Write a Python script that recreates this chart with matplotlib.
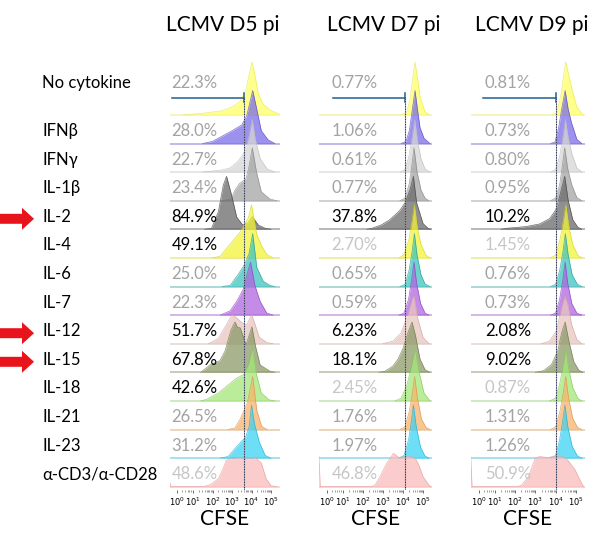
import numpy as np
import matplotlib
matplotlib.use('Agg')
import matplotlib.pyplot as plt
from matplotlib import transforms
from matplotlib.patches import FancyArrow

plt.rcParams['font.family'] = ['Lato', 'DejaVu Sans']

# ---- data ----
rows = ['No cytokine', 'IFNβ', 'IFNγ', 'IL-1β', 'IL-2', 'IL-4', 'IL-6', 'IL-7',
        'IL-12', 'IL-15', 'IL-18', 'IL-21', 'IL-23', 'α-CD3/α-CD28']
row_colors = ['#ffff66', '#7b6ce6', '#d6d6d6', '#a4a4a4', '#6a6a6a', '#f4f43a',
              '#3ec4c0', '#b064e0', '#e9c6c0', '#8c9a68', '#a4e678', '#f7b46c',
              '#3ed2f4', '#f9bcbc']
edge_colors = ['#e6e65a', '#5a4cc8', '#bdbdbd', '#888888', '#444444', '#d4d420',
               '#289c98', '#8c44bc', '#c9a6a0', '#6c7a4c', '#84c658', '#d7944c',
               '#20b0d0', '#e89c9c']
titles = ['LCMV D5 pi', 'LCMV D7 pi', 'LCMV D9 pi']
arrow_rows = ['IL-2', 'IL-12', 'IL-15']

pct_d5 = ['22.3%', '28.0%', '22.7%', '23.4%', '84.9%', '49.1%', '25.0%', '22.3%',
          '51.7%', '67.8%', '42.6%', '26.5%', '31.2%', '48.6%']
pct_d7 = ['0.77%', '1.06%', '0.61%', '0.77%', '37.8%', '2.70%', '0.65%', '0.59%',
          '6.23%', '18.1%', '2.45%', '1.76%', '1.97%', '46.8%']
pct_d9 = ['0.81%', '0.73%', '0.80%', '0.95%', '10.2%', '1.45%', '0.76%', '0.73%',
          '2.08%', '9.02%', '0.87%', '1.31%', '1.26%', '50.9%']
# k = black, g = gray, l = light gray
ink_d5 = 'ggggkkggkkkggl'
ink_d7 = 'ggggklggkklggl'
ink_d9 = 'ggggklggkklggl'

# gate position (decades) per panel
gates = [3.62, 4.1, 4.02]

# histogram outlines: (CFSE position in decades, height relative to mode)
d5_curves = [
    [(0.5, 0), (1.5, 0.03), (2.5, 0.08), (3.0, 0.15), (3.4, 0.25), (3.7, 0.45), (3.9, 0.8),
     (4.02, 1.0), (4.15, 0.8), (4.35, 0.4), (4.6, 0.2), (5.0, 0.08), (5.4, 0.02)],
    [(1.5, 0), (2.0, 0.04), (2.3, 0.1), (3.0, 0.24), (3.5, 0.35), (3.75, 0.52), (3.92, 0.78),
     (4.06, 1.0), (4.25, 0.68), (4.5, 0.24), (4.85, 0.07), (5.2, 0)],
    [(1.5, 0), (2.5, 0.04), (2.9, 0.08), (3.3, 0.2), (3.6, 0.35), (3.85, 0.65), (4.03, 1.0),
     (4.2, 0.6), (4.45, 0.25), (4.8, 0.06), (5.2, 0)],
    [(2.5, 0), (2.95, 0.03), (3.15, 0.2), (3.4, 0.33), (3.7, 0.4), (3.85, 0.6), (4.04, 1.0),
     (4.25, 0.55), (4.5, 0.17), (4.95, 0.03), (5.3, 0)],
    [(1.6, 0), (1.95, 0.02), (2.3, 0.33), (2.55, 0.83), (2.72, 1.0), (2.98, 0.64), (3.24, 0.23),
     (3.55, 0.08), (3.8, 0.12), (4.04, 0.24), (4.35, 0.08), (4.7, 0.02), (5.0, 0)],
    [(2.0, 0), (2.38, 0.03), (2.9, 0.26), (3.4, 0.48), (3.84, 0.76), (4.0, 1.0), (4.26, 0.45),
     (4.55, 0.2), (4.8, 0.06), (5.1, 0)],
    [(2.5, 0), (2.9, 0.02), (3.3, 0.22), (3.65, 0.42), (3.87, 0.62), (4.06, 1.0), (4.27, 0.36),
     (4.6, 0.1), (4.95, 0.02), (5.2, 0)],
    [(2.4, 0), (2.9, 0.08), (3.24, 0.26), (3.58, 0.49), (3.77, 0.77), (3.95, 1.0), (4.18, 0.55),
     (4.44, 0.26), (4.78, 0.04), (5.1, 0)],
    [(1.8, 0), (2.3, 0.1), (2.7, 0.35), (3.0, 0.55), (3.2, 0.5), (3.5, 0.4), (3.75, 0.35),
     (4.0, 0.55), (4.15, 0.4), (4.4, 0.12), (4.8, 0.02), (5.1, 0)],
    [(1.4, 0), (1.87, 0.14), (2.38, 0.22), (2.64, 0.4), (2.95, 0.8), (3.15, 0.95), (3.28, 0.85),
     (3.42, 0.84), (3.55, 0.7), (3.72, 0.52), (3.88, 0.7), (4.02, 0.86), (4.2, 0.5),
     (4.44, 0.14), (4.95, 0.02), (5.2, 0)],
    [(1.4, 0), (1.7, 0.03), (2.3, 0.15), (2.8, 0.3), (3.2, 0.42), (3.6, 0.5), (3.85, 0.7),
     (4.05, 1.0), (4.25, 0.5), (4.5, 0.15), (4.9, 0.02), (5.2, 0)],
    [(2.8, 0), (3.15, 0.03), (3.41, 0.19), (3.79, 0.51), (4.06, 1.0), (4.27, 0.36), (4.52, 0.06),
     (4.8, 0)],
    [(2.4, 0), (2.8, 0.03), (3.2, 0.2), (3.45, 0.3), (3.7, 0.4), (3.88, 0.6), (4.0, 1.0),
     (4.15, 0.65), (4.4, 0.3), (4.7, 0.05), (5.0, 0)],
    [(-0.2, 0.1), (-0.14, 0), (1.5, 0), (1.9, 0.04), (2.3, 0.15), (2.55, 0.35), (2.7, 0.5),
     (3.0, 0.53), (3.4, 0.55), (3.8, 0.52), (4.2, 0.55), (4.5, 0.45), (4.75, 0.15), (5.0, 0.02),
     (5.3, 0)],
]

d7_curves = [
    [(3.9, 0), (4.18, 0.04), (4.35, 0.3), (4.47, 0.65), (4.6, 1.0), (4.72, 0.7), (4.85, 0.35),
     (5.1, 0.06), (5.3, 0)],
    [(3.9, 0), (4.15, 0.04), (4.32, 0.25), (4.45, 0.6), (4.6, 1.0), (4.72, 0.65), (4.85, 0.3),
     (5.05, 0.1), (5.35, 0)],
    [(3.85, 0), (4.1, 0.05), (4.3, 0.3), (4.45, 0.65), (4.58, 1.0), (4.72, 0.6), (4.9, 0.25),
     (5.1, 0.06), (5.35, 0)],
    [(3.85, 0), (4.1, 0.05), (4.3, 0.3), (4.42, 0.6), (4.55, 1.0), (4.7, 0.55), (4.9, 0.2),
     (5.1, 0.05), (5.3, 0)],
    [(2.2, 0), (2.45, 0.02), (2.9, 0.08), (3.3, 0.17), (3.6, 0.27), (3.85, 0.36), (4.1, 0.5),
     (4.35, 0.74), (4.52, 1.0), (4.68, 0.5), (5.0, 0.11), (5.25, 0.02), (5.4, 0)],
    [(3.8, 0), (4.05, 0.06), (4.3, 0.35), (4.45, 0.7), (4.57, 1.0), (4.7, 0.6), (4.9, 0.25),
     (5.15, 0.05), (5.35, 0)],
    [(3.85, 0), (4.1, 0.04), (4.3, 0.3), (4.45, 0.65), (4.57, 1.0), (4.7, 0.6), (4.9, 0.22),
     (5.1, 0.05), (5.35, 0)],
    [(3.8, 0), (4.05, 0.04), (4.28, 0.3), (4.42, 0.65), (4.55, 1.0), (4.68, 0.6), (4.88, 0.22),
     (5.1, 0.04), (5.3, 0)],
    [(3.0, 0), (3.5, 0.05), (3.9, 0.2), (4.2, 0.5), (4.45, 0.85), (4.55, 0.9), (4.72, 0.5),
     (5.0, 0.12), (5.3, 0)],
    [(2.8, 0), (3.1, 0.02), (3.5, 0.12), (3.75, 0.25), (4.0, 0.45), (4.25, 0.75), (4.45, 0.95),
     (4.62, 0.7), (4.85, 0.25), (5.1, 0.05), (5.35, 0)],
    [(3.6, 0), (3.9, 0.05), (4.2, 0.3), (4.45, 0.7), (4.6, 1.0), (4.8, 0.55), (5.05, 0.15),
     (5.35, 0)],
    [(3.85, 0), (4.1, 0.05), (4.32, 0.35), (4.47, 0.7), (4.58, 1.0), (4.72, 0.6), (4.92, 0.2),
     (5.15, 0.04), (5.35, 0)],
    [(3.8, 0), (4.05, 0.05), (4.28, 0.35), (4.42, 0.7), (4.52, 1.0), (4.66, 0.6), (4.88, 0.2),
     (5.1, 0.04), (5.3, 0)],
    [(-0.2, 0.57), (-0.14, 0), (2.4, 0), (2.6, 0.03), (2.85, 0.19), (3.18, 0.44), (3.52, 0.63),
     (3.8, 0.55), (4.2, 0.58), (4.6, 0.55), (4.8, 0.4), (5.0, 0.19), (5.3, 0.03), (5.4, 0)],
]

d9_curves = [
    [(3.8, 0), (4.05, 0.04), (4.25, 0.35), (4.38, 0.7), (4.5, 1.0), (4.65, 0.75), (4.8, 0.5),
     (5.05, 0.15), (5.35, 0)],
    [(3.75, 0), (3.97, 0.03), (4.15, 0.3), (4.3, 0.65), (4.47, 1.0), (4.62, 0.65), (4.78, 0.4),
     (5.05, 0.08), (5.3, 0)],
    [(3.75, 0), (4.0, 0.05), (4.2, 0.3), (4.35, 0.65), (4.48, 1.0), (4.62, 0.65), (4.8, 0.35),
     (5.05, 0.08), (5.3, 0)],
    [(3.75, 0), (4.0, 0.05), (4.2, 0.3), (4.33, 0.65), (4.45, 1.0), (4.6, 0.6), (4.8, 0.3),
     (5.05, 0.06), (5.3, 0)],
    [(1.3, 0), (1.6, 0.02), (2.5, 0.05), (3.2, 0.1), (3.7, 0.2), (4.0, 0.36), (4.2, 0.62),
     (4.45, 1.0), (4.62, 0.55), (4.85, 0.18), (5.1, 0.04), (5.3, 0)],
    [(3.75, 0), (4.0, 0.05), (4.22, 0.35), (4.38, 0.7), (4.5, 1.0), (4.65, 0.6), (4.85, 0.25),
     (5.1, 0.05), (5.3, 0)],
    [(3.75, 0), (4.0, 0.04), (4.2, 0.3), (4.36, 0.65), (4.48, 1.0), (4.62, 0.6), (4.82, 0.22),
     (5.08, 0.04), (5.3, 0)],
    [(3.75, 0), (4.0, 0.04), (4.2, 0.3), (4.35, 0.65), (4.47, 1.0), (4.6, 0.6), (4.8, 0.22),
     (5.05, 0.04), (5.3, 0)],
    [(3.3, 0), (3.7, 0.05), (4.05, 0.25), (4.3, 0.7), (4.45, 0.9), (4.6, 0.75), (4.8, 0.35),
     (5.05, 0.08), (5.3, 0)],
    [(3.0, 0), (3.4, 0.03), (3.8, 0.15), (4.1, 0.4), (4.3, 0.75), (4.47, 0.95), (4.65, 0.6),
     (4.9, 0.2), (5.15, 0.04), (5.35, 0)],
    [(3.7, 0), (4.0, 0.05), (4.22, 0.35), (4.38, 0.7), (4.5, 1.0), (4.65, 0.6), (4.85, 0.25),
     (5.1, 0.05), (5.3, 0)],
    [(3.75, 0), (4.0, 0.05), (4.22, 0.35), (4.38, 0.7), (4.5, 1.0), (4.64, 0.6), (4.84, 0.22),
     (5.08, 0.04), (5.3, 0)],
    [(3.75, 0), (4.0, 0.05), (4.2, 0.35), (4.35, 0.7), (4.46, 1.0), (4.6, 0.6), (4.82, 0.22),
     (5.08, 0.04), (5.3, 0)],
    [(-0.2, 0.57), (-0.14, 0), (2.1, 0), (2.32, 0.03), (2.65, 0.19), (2.98, 0.53), (3.2, 0.57),
     (3.6, 0.55), (4.0, 0.58), (4.4, 0.56), (4.6, 0.5), (4.96, 0.32), (5.29, 0.06), (5.4, 0)],
]

# ---- layout (pixels of the 605 x 549 picture) ----
W, H = 605, 549
row_px = 28.6          # distance between baselines
base0_px = 114.9       # baseline of first row
top_px, bot_px = 55, 490
peak = 53 / row_px     # height of a mode-normalised histogram in row units
panel_left = [169.6, 319, 470.8]
panel_width = [110.2, 113, 114.1]
title_x = [223, 384, 532]
pct_x = [-0.1, 0.42, 0.5]
gate_left = [-0.1, 0.5, 0.4]
ink = {'k': 'black', 'g': '#a3a3a3', 'l': '#c6c6c6'}

fig = plt.figure(figsize=(W / 100, H / 100), dpi=100)

panels = [(pct_d5, ink_d5, d5_curves), (pct_d7, ink_d7, d7_curves), (pct_d9, ink_d9, d9_curves)]
n = len(rows)
ylo = -((n - 1) + (bot_px - (base0_px + (n - 1) * row_px)) / row_px)
yhi = (base0_px - top_px) / row_px

axes = []
for p, (pcts, inks, curves) in enumerate(panels):
    ax = fig.add_axes([panel_left[p] / W, 1 - bot_px / H, panel_width[p] / W, (bot_px - top_px) / H])
    ax.set_xlim(-0.2, 5.45)
    ax.set_ylim(ylo, yhi)
    for i, curve in enumerate(curves):
        base = -i
        u, h = zip(*curve)
        top = base + np.array(h) * peak
        ax.axhline(base, color=edge_colors[i], alpha=0.45, lw=1.2, zorder=1 + 2 * i)
        ax.fill_between(u, base, top, color=row_colors[i], alpha=0.75, lw=0, zorder=2 + 2 * i)
        ax.plot(u, top, color=edge_colors[i], lw=0.5, alpha=0.8, zorder=2 + 2 * i)
        ty = base + (114.9 - 83) / row_px if i == 0 else base + 12.5 / row_px
        ax.text(pct_x[p], ty, pcts[i], color=ink[inks[i]], fontsize=12, ha='left',
                va='center', zorder=40)
    g = gates[p]
    gy = (base0_px - 97.7) / row_px
    ax.plot([gate_left[p], g], [gy, gy], color='#1f5f8f', lw=1.1, zorder=41)
    ax.plot([g, g], [gy - 0.15, gy + 0.15], color='#1f5f8f', lw=1.1, zorder=41)
    ax.plot([g, g], [gy, ylo], color='#8a96c4', lw=0.6, zorder=41)
    ax.plot([g, g], [gy, ylo], color='#333333', lw=0.8, ls=(0, (1, 1.3)), zorder=42)

    ax.set_xticks([0.2, 1, 2, 3, 4, 5])
    ax.set_xticklabels([r'$10^{%d}$' % k for k in range(6)], fontsize=6)
    minor = [k + np.log10(m) for k in range(1, 5) for m in range(2, 10)] + [0.45, 0.6, 0.72, 0.82, 0.9]
    ax.set_xticks(minor, minor=True)
    ax.tick_params(axis='x', which='major', length=2.5, width=0.6, color='#555555', pad=1.5)
    ax.tick_params(axis='x', which='minor', length=1.5, width=0.5, color='#777777')
    ax.set_yticks([])
    for s in ax.spines.values():
        s.set_visible(False)
    ax.set_xlabel('CFSE', fontsize=15, labelpad=1)
    fig.text(title_x[p] / W, 1 - 25 / H, titles[p], fontsize=15, ha='center', va='center')
    axes.append(ax)

# row labels and arrows, aligned with the rows of the first panel
ax0 = axes[0]
blend = transforms.blended_transform_factory(fig.transFigure, ax0.transData)
for i, name in enumerate(rows):
    ty = -i + ((114.9 - 83) / row_px if i == 0 else 12.5 / row_px)
    fig.text(42 / W, ty, name, fontsize=12, ha='left', va='center', transform=blend)
    if name in arrow_rows:
        arr = FancyArrow(0.0, ty - 2 / row_px, 34 / W, 0, width=10 / row_px,
                         head_width=22 / row_px, head_length=12 / W,
                         length_includes_head=True, color='#e8141c', lw=0,
                         transform=blend)
        fig.add_artist(arr)

fig.savefig('out.png', dpi=100)
